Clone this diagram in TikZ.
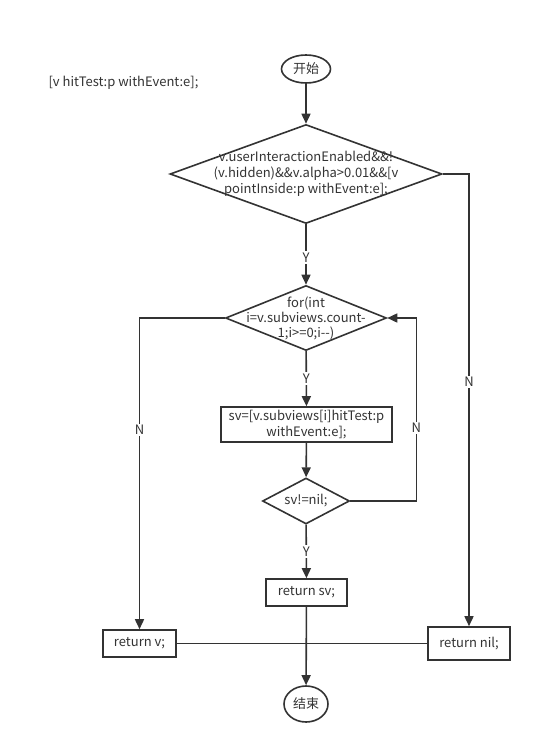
\documentclass[tikz,border=0pt]{standalone}
\usepackage{fontspec}
\setmainfont{Noto Sans CJK SC}
\usepackage{xcolor}
\usetikzlibrary{shapes.geometric}
\usetikzlibrary{arrows.meta}
\usetikzlibrary{positioning}
\definecolor{linegray}{HTML}{333333}

\begin{document}
\begin{tikzpicture}[
    x=1pt, y=-1pt,
    every node/.style={font=\fontsize{13}{16}\selectfont, text=linegray},
    terminal/.style={ellipse, draw=linegray, line width=1.6pt, inner sep=0pt},
    process/.style={rectangle, draw=linegray, line width=1.6pt, inner sep=0pt, align=center},
    decision/.style={diamond, draw=linegray, line width=1.6pt, inner sep=0pt},
    flow/.style={draw=linegray, line width=1.6pt, -{Triangle[length=10pt,width=9pt]}},
    link/.style={draw=linegray, line width=1.6pt},
    yn/.style={fill=white, inner sep=1.5pt}
]
\useasboundingbox (0,0) rectangle (540,752);
% Caption
\node[anchor=west] (title) at (45,83) {[v hitTest:p withEvent:e];};
% Flow chart nodes
\node[terminal, minimum width=49pt, minimum height=28pt] (start) at (306,69) {开始};
\node[decision, minimum width=272pt, minimum height=99pt,
      label={[align=center]center:{v.userInteractionEnabled\&\&!\\(v.hidden)\&\&v.alpha>0.01\&\&[v\\pointInside:p withEvent:e];}}] (check) at (306,174) {};
\node[decision, minimum width=161pt, minimum height=65pt,
      label={[align=center, font=\fontsize{13}{15}\selectfont]center:{for(int\\i=v.subviews.count-\\1;i>=0;i-{}-)}}] (loop) at (306,318) {};
\node[process, minimum width=171pt, minimum height=35pt] (call) at (306.5,424.5) {sv=[v.subviews[i]hitTest:p\\withEvent:e];};
\node[decision, minimum width=87pt, minimum height=46pt, label={center:{sv!=nil;}}] (test) at (306,501) {};
\node[process, minimum width=81pt, minimum height=27pt] (retsv) at (306.5,592.5) {return sv;};
\node[process, minimum width=73pt, minimum height=27pt] (retv) at (139.5,643.5) {return v;};
\node[process, minimum width=82pt, minimum height=33pt] (retnil) at (469,643.5) {return nil;};
\node[terminal, minimum width=44pt, minimum height=36pt] (finish) at (306,704) {结束};
% Connectors
\draw[flow] (start) -- (check);
\draw[flow] (check) -- node[yn, pos=0.55] {Y} (loop);
\draw[flow] (loop) -- node[yn] {Y} (call);
\draw[flow] (call) -- (test);
\draw[flow] (test) -- node[yn] {Y} (retsv);
\draw[flow] (retsv) -- (finish);
\draw[link] (retv) -- (retnil);
\draw[flow] (check.east) -| node[yn, pos=0.73] {N} (retnil);
\draw[flow] (loop.west) -| node[yn, pos=0.68] {N} (retv);
\draw[flow] (test.east) -- ++(66,0) |- node[yn, pos=0.2] {N} (loop.east);
\end{tikzpicture}
\end{document}
